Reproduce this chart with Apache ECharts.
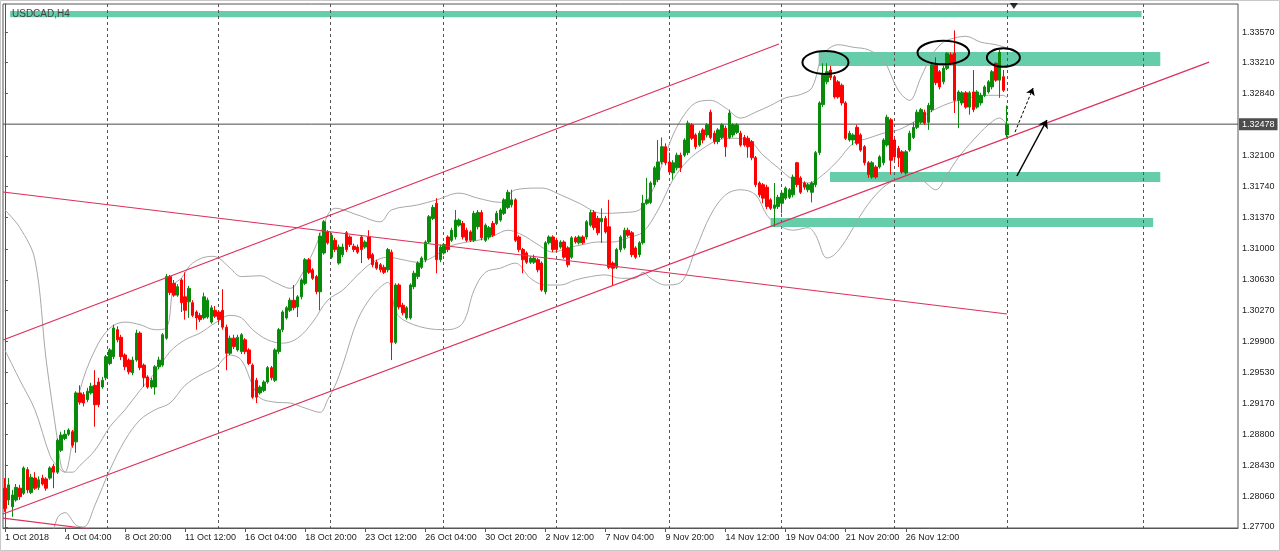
<!DOCTYPE html>
<html><head><meta charset="utf-8">
<script src="https://cdn.jsdelivr.net/npm/echarts@6/dist/echarts.min.js"></script>
<style>html,body{margin:0;padding:0;background:#fff}#c{width:1280px;height:551px}</style>
</head><body><div id="c"></div>
<script>
// ---- data ----
const xLabels = ['1 Oct 2018','4 Oct 04:00','8 Oct 20:00','11 Oct 12:00','16 Oct 04:00','18 Oct 20:00','23 Oct 12:00','26 Oct 04:00','30 Oct 20:00','2 Nov 12:00','7 Nov 04:00','9 Nov 20:00','14 Nov 12:00','19 Nov 04:00','21 Nov 20:00','26 Nov 12:00','29 Nov 04:00'];
const yTicks = [1.27700,1.28060,1.28430,1.28800,1.29170,1.29530,1.29900,1.30270,1.30630,1.31000,1.31370,1.31740,1.32100,1.32840,1.33210,1.33570];
const lastPrice = 1.32478;
// [open, close, low, high]
const candles = [
[1.2816,1.2792,1.2788,1.2828],[1.2802,1.2820,1.2796,1.2828],[1.2794,1.2808,1.2782,1.2814],[1.2802,1.2817,1.2800,1.2821],[1.2816,1.2806,1.2802,1.2820],
[1.2810,1.2840,1.2808,1.2842],[1.2838,1.2814,1.2810,1.2841],[1.2811,1.2829,1.2809,1.2833],[1.2828,1.2816,1.2814,1.2835],[1.2817,1.2826,1.2814,1.2830],
[1.2828,1.2821,1.2819,1.2832],[1.2827,1.2816,1.2813,1.2829],[1.2828,1.2840,1.2826,1.2842],[1.2842,1.2835,1.2816,1.2845],[1.2835,1.2873,1.2833,1.2875],
[1.2861,1.2879,1.2859,1.2883],[1.2875,1.2880,1.2873,1.2885],[1.2880,1.2885,1.2878,1.2887],[1.2883,1.2867,1.2864,1.2885],[1.2871,1.2929,1.2858,1.2931],
[1.2929,1.2918,1.2915,1.2938],[1.2927,1.2917,1.2913,1.2930],[1.2921,1.2931,1.2918,1.2935],[1.2929,1.2937,1.2927,1.2941],[1.2938,1.2915,1.2889,1.2956],
[1.2942,1.2915,1.2912,1.2947],[1.2936,1.2944,1.2934,1.2948],[1.2947,1.2972,1.2944,1.2974],[1.2964,1.2980,1.2962,1.2982],[1.2972,1.3006,1.2969,1.3010],
[1.3004,1.2992,1.2989,1.3008],[1.2995,1.2972,1.2968,1.2998],[1.2974,1.2960,1.2956,1.2976],[1.2968,1.2954,1.2951,1.2970],[1.2953,1.2968,1.2950,1.2972],
[1.2968,1.3000,1.2966,1.3004],[1.3000,1.2959,1.2956,1.3002],[1.2962,1.2947,1.2936,1.2964],[1.2948,1.2936,1.2934,1.2950],[1.2936,1.2944,1.2934,1.2947],
[1.2936,1.2960,1.2927,1.2962],[1.2960,1.2968,1.2957,1.2972],[1.2962,1.2998,1.2960,1.3000],[1.2994,1.3067,1.2992,1.3070],[1.3067,1.3048,1.3045,1.3069],
[1.3059,1.3045,1.3043,1.3063],[1.3045,1.3055,1.3043,1.3058],[1.3063,1.3036,1.3025,1.3065],[1.3043,1.3027,1.3016,1.3072],[1.3037,1.3053,1.3018,1.3056],
[1.3036,1.3021,1.3019,1.3039],[1.3025,1.3018,1.3004,1.3027],[1.3021,1.3016,1.3013,1.3024],[1.3018,1.3043,1.3016,1.3048],[1.3019,1.3039,1.3017,1.3042],
[1.3013,1.3030,1.3011,1.3033],[1.3027,1.3020,1.3018,1.3032],[1.3025,1.3016,1.3013,1.3027],[1.3027,1.3007,1.3004,1.3052],[1.3007,1.2976,1.2956,1.3010],
[1.2976,1.2994,1.2974,1.2997],[1.2994,1.2984,1.2981,1.2998],[1.2980,1.2995,1.2978,1.2998],[1.2978,1.2998,1.2975,1.3000],[1.2992,1.2978,1.2975,1.2994],
[1.2980,1.2964,1.2962,1.2982],[1.2962,1.2924,1.2922,1.2964],[1.2944,1.2924,1.2917,1.2947],[1.2929,1.2936,1.2927,1.2938],[1.2932,1.2942,1.2930,1.2944],
[1.2942,1.2959,1.2940,1.2961],[1.2959,1.2947,1.2944,1.2961],[1.2944,1.2980,1.2942,1.2982],[1.2978,1.3004,1.2975,1.3006],[1.3004,1.3025,1.3001,1.3027],
[1.3018,1.3030,1.3016,1.3032],[1.3027,1.3039,1.3025,1.3042],[1.3039,1.3030,1.3027,1.3057],[1.3031,1.3043,1.3019,1.3045],[1.3043,1.3063,1.3040,1.3065],
[1.3059,1.3087,1.3057,1.3089],[1.3087,1.3072,1.3070,1.3089],[1.3075,1.3065,1.3063,1.3077],[1.3067,1.3049,1.3046,1.3069],[1.3049,1.3115,1.3027,1.3119],
[1.3095,1.3132,1.3093,1.3134],[1.3120,1.3107,1.3105,1.3122],[1.3090,1.3116,1.3088,1.3119],[1.3110,1.3099,1.3096,1.3113],[1.3083,1.3102,1.3081,1.3105],
[1.3093,1.3102,1.3090,1.3106],[1.3119,1.3099,1.3096,1.3121],[1.3114,1.3105,1.3102,1.3116],[1.3103,1.3099,1.3096,1.3106],[1.3102,1.3096,1.3094,1.3105],
[1.3114,1.3099,1.3083,1.3116],[1.3102,1.3108,1.3100,1.3110],[1.3114,1.3089,1.3087,1.3122],[1.3093,1.3081,1.3078,1.3095],[1.3084,1.3077,1.3075,1.3087],
[1.3081,1.3075,1.3072,1.3083],[1.3078,1.3072,1.3070,1.3081],[1.3075,1.3099,1.3072,1.3101],[1.3096,1.2989,1.2968,1.3099],[1.2989,1.3057,1.2987,1.3059],
[1.3057,1.3031,1.3028,1.3059],[1.3033,1.3024,1.3021,1.3036],[1.3018,1.3030,1.3016,1.3032],[1.3018,1.3057,1.3016,1.3059],[1.3055,1.3071,1.3052,1.3074],
[1.3067,1.3083,1.3064,1.3085],[1.3078,1.3089,1.3076,1.3091],[1.3087,1.3108,1.3084,1.3110],[1.3108,1.3138,1.3106,1.3140],[1.3136,1.3149,1.3134,1.3152],
[1.3154,1.3087,1.3071,1.3160],[1.3087,1.3102,1.3084,1.3105],[1.3095,1.3105,1.3093,1.3107],[1.3114,1.3099,1.3096,1.3116],[1.3110,1.3122,1.3108,1.3125],
[1.3114,1.3134,1.3111,1.3146],[1.3128,1.3134,1.3126,1.3136],[1.3130,1.3114,1.3111,1.3133],[1.3122,1.3110,1.3108,1.3125],[1.3120,1.3110,1.3108,1.3122],
[1.3110,1.3142,1.3108,1.3145],[1.3126,1.3143,1.3123,1.3146],[1.3143,1.3113,1.3110,1.3146],[1.3110,1.3128,1.3108,1.3130],[1.3114,1.3125,1.3111,1.3127],
[1.3130,1.3116,1.3114,1.3133],[1.3130,1.3142,1.3128,1.3145],[1.3134,1.3146,1.3132,1.3148],[1.3142,1.3158,1.3140,1.3160],[1.3149,1.3167,1.3147,1.3170],
[1.3152,1.3158,1.3149,1.3170],[1.3158,1.3110,1.3108,1.3160],[1.3114,1.3099,1.3096,1.3116],[1.3099,1.3087,1.3071,1.3101],[1.3095,1.3084,1.3082,1.3097],
[1.3084,1.3089,1.3082,1.3091],[1.3084,1.3089,1.3082,1.3093],[1.3087,1.3075,1.3072,1.3089],[1.3083,1.3051,1.3049,1.3085],[1.3049,1.3107,1.3046,1.3109],
[1.3107,1.3114,1.3105,1.3116],[1.3114,1.3099,1.3096,1.3116],[1.3110,1.3099,1.3096,1.3113],[1.3102,1.3108,1.3100,1.3110],[1.3108,1.3090,1.3088,1.3110],
[1.3101,1.3081,1.3078,1.3103],[1.3090,1.3113,1.3088,1.3115],[1.3113,1.3108,1.3106,1.3115],[1.3107,1.3114,1.3105,1.3116],[1.3114,1.3107,1.3105,1.3116],
[1.3114,1.3132,1.3111,1.3134],[1.3128,1.3143,1.3126,1.3146],[1.3143,1.3125,1.3122,1.3146],[1.3136,1.3119,1.3116,1.3139],[1.3132,1.3136,1.3107,1.3148],
[1.3136,1.3120,1.3118,1.3139],[1.3126,1.3078,1.3076,1.3158],[1.3083,1.3077,1.3057,1.3085],[1.3078,1.3099,1.3076,1.3101],[1.3099,1.3114,1.3096,1.3116],
[1.3101,1.3122,1.3099,1.3125],[1.3122,1.3116,1.3114,1.3125],[1.3119,1.3093,1.3090,1.3121],[1.3101,1.3090,1.3088,1.3103],[1.3093,1.3107,1.3090,1.3109],
[1.3107,1.3154,1.3105,1.3164],[1.3154,1.3158,1.3152,1.3184],[1.3155,1.3178,1.3153,1.3180],[1.3176,1.3196,1.3173,1.3198],[1.3182,1.3203,1.3179,1.3229],
[1.3203,1.3221,1.3200,1.3232],[1.3221,1.3202,1.3199,1.3225],[1.3203,1.3191,1.3189,1.3214],[1.3190,1.3202,1.3182,1.3205],[1.3196,1.3211,1.3193,1.3214],
[1.3211,1.3196,1.3191,1.3214],[1.3211,1.3229,1.3209,1.3231],[1.3214,1.3249,1.3211,1.3252],[1.3247,1.3231,1.3229,1.3249],[1.3235,1.3221,1.3218,1.3237],
[1.3223,1.3237,1.3221,1.3240],[1.3241,1.3229,1.3225,1.3243],[1.3235,1.3247,1.3232,1.3249],[1.3262,1.3232,1.3230,1.3265],[1.3237,1.3227,1.3224,1.3240],
[1.3227,1.3241,1.3224,1.3243],[1.3232,1.3247,1.3230,1.3249],[1.3243,1.3221,1.3209,1.3246],[1.3232,1.3261,1.3230,1.3265],[1.3235,1.3247,1.3232,1.3249],
[1.3238,1.3247,1.3236,1.3249],[1.3237,1.3223,1.3221,1.3240],[1.3232,1.3223,1.3221,1.3235],[1.3231,1.3221,1.3208,1.3234],[1.3227,1.3208,1.3205,1.3229],
[1.3208,1.3176,1.3173,1.3210],[1.3178,1.3164,1.3161,1.3180],[1.3176,1.3160,1.3154,1.3178],[1.3173,1.3150,1.3147,1.3176],[1.3158,1.3148,1.3146,1.3160],
[1.3148,1.3152,1.3126,1.3178],[1.3150,1.3161,1.3147,1.3164],[1.3154,1.3166,1.3142,1.3168],[1.3160,1.3172,1.3158,1.3174],[1.3161,1.3170,1.3159,1.3172],
[1.3164,1.3185,1.3161,1.3188],[1.3202,1.3176,1.3173,1.3203],[1.3184,1.3167,1.3165,1.3186],[1.3178,1.3173,1.3170,1.3180],[1.3170,1.3176,1.3167,1.3178],
[1.3167,1.3178,1.3155,1.3180],[1.3176,1.3214,1.3173,1.3216],[1.3214,1.3273,1.3211,1.3275],[1.3271,1.3306,1.3268,1.3320],[1.3298,1.3310,1.3295,1.3320],
[1.3312,1.3303,1.3300,1.3317],[1.3304,1.3280,1.3278,1.3306],[1.3298,1.3280,1.3278,1.3300],[1.3294,1.3273,1.3270,1.3296],[1.3273,1.3231,1.3229,1.3275],
[1.3229,1.3237,1.3227,1.3240],[1.3229,1.3235,1.3223,1.3237],[1.3244,1.3225,1.3223,1.3247],[1.3235,1.3217,1.3215,1.3237],[1.3221,1.3202,1.3199,1.3223],
[1.3202,1.3188,1.3184,1.3204],[1.3185,1.3202,1.3183,1.3204],[1.3197,1.3185,1.3183,1.3199],[1.3197,1.3209,1.3195,1.3211],[1.3202,1.3229,1.3199,1.3231],
[1.3223,1.3256,1.3221,1.3259],[1.3253,1.3205,1.3188,1.3255],[1.3229,1.3209,1.3205,1.3231],[1.3219,1.3208,1.3197,1.3222],[1.3215,1.3191,1.3189,1.3217],
[1.3190,1.3215,1.3188,1.3217],[1.3217,1.3237,1.3215,1.3240],[1.3232,1.3244,1.3230,1.3250],[1.3244,1.3262,1.3242,1.3265],[1.3250,1.3265,1.3248,1.3267],
[1.3262,1.3249,1.3247,1.3265],[1.3250,1.3270,1.3241,1.3273],[1.3265,1.3318,1.3262,1.3320],[1.3318,1.3297,1.3294,1.3327],[1.3310,1.3292,1.3289,1.3312],
[1.3298,1.3314,1.3295,1.3317],[1.3314,1.3332,1.3312,1.3333],[1.3330,1.3320,1.3318,1.3333],[1.3332,1.3276,1.3261,1.3359],[1.3276,1.3286,1.3243,1.3288],
[1.3273,1.3285,1.3270,1.3287],[1.3285,1.3268,1.3266,1.3287],[1.3268,1.3285,1.3259,1.3287],[1.3286,1.3265,1.3262,1.3312],[1.3268,1.3286,1.3266,1.3288],
[1.3273,1.3282,1.3270,1.3285],[1.3282,1.3292,1.3280,1.3294],[1.3286,1.3298,1.3284,1.3300],[1.3292,1.3310,1.3289,1.3312],[1.3320,1.3300,1.3298,1.3321],
[1.3300,1.3333,1.3279,1.3336],[1.3304,1.3288,1.3286,1.3312],[1.3235,1.32478,1.3232,1.3270]
];
// Bollinger bands: [bar index, price]
const upperBand = [[0,1.3146],[4,1.3125],[8,1.3087],[11,1.2968],[14,1.2873],[15,1.2842],[16,1.2835],[18,1.2873],[20,1.2932],[24,1.2980],[28,1.3006],[32,1.3013],[36,1.3010],[40,1.3004],[43,1.3006],[45,1.3057],[47,1.3065],[50,1.3083],[55,1.3091],[57,1.3089],[60,1.3077],[63,1.3067],[68,1.3068],[72,1.3060],[76,1.3053],[79,1.3069],[83,1.3105],[86,1.3140],[88,1.3148],[94,1.3140],[100,1.3132],[103,1.3146],[110,1.3152],[115,1.3158],[121,1.3166],[126,1.3160],[132,1.3155],[136,1.3170],[143,1.3172],[148,1.3164],[153,1.3154],[159,1.3142],[165,1.3143],[169,1.3146],[172,1.3164],[175,1.3199],[178,1.3235],[181,1.3259],[184,1.3273],[188,1.3276],[192,1.3267],[196,1.3255],[200,1.3262],[204,1.3270],[208,1.3279],[212,1.3283],[215,1.3291],[218,1.3330],[222,1.3342],[226,1.3339],[230,1.3336],[234,1.3324],[238,1.3288],[241,1.3276],[244,1.3303],[247,1.3330],[250,1.3345],[253,1.3350],[256,1.3352],[260,1.3345],[264,1.3342],[267,1.3338]];
const middleBand = [[0,1.2980],[4,1.2944],[8,1.2909],[12,1.2855],[14,1.2842],[16,1.2835],[18,1.2835],[20,1.2843],[24,1.2861],[28,1.2889],[32,1.2909],[36,1.2932],[40,1.2953],[44,1.2978],[48,1.2992],[52,1.3000],[56,1.3012],[60,1.3021],[63,1.3018],[66,1.3004],[70,1.2992],[74,1.2988],[78,1.2994],[82,1.3013],[86,1.3039],[90,1.3051],[94,1.3069],[98,1.3084],[102,1.3090],[106,1.3087],[110,1.3084],[114,1.3090],[118,1.3102],[122,1.3107],[126,1.3110],[130,1.3115],[134,1.3122],[138,1.3116],[142,1.3105],[146,1.3096],[150,1.3101],[154,1.3105],[158,1.3108],[162,1.3108],[166,1.3113],[170,1.3120],[174,1.3146],[178,1.3182],[182,1.3205],[186,1.3219],[190,1.3229],[194,1.3231],[198,1.3229],[202,1.3211],[206,1.3196],[210,1.3182],[214,1.3178],[218,1.3188],[222,1.3205],[226,1.3225],[230,1.3231],[234,1.3237],[238,1.3241],[242,1.3250],[246,1.3261],[250,1.3270],[254,1.3276],[258,1.3280],[262,1.3282],[266,1.3282],[267,1.3279]];
const lowerBand = [[10,1.2731],[12,1.2749],[14,1.2781],[16,1.2787],[19,1.2772],[21,1.2770],[24,1.2796],[28,1.2838],[32,1.2873],[36,1.2897],[40,1.2909],[44,1.2917],[48,1.2938],[52,1.2950],[56,1.2959],[60,1.2974],[63,1.2968],[66,1.2938],[68,1.2923],[72,1.2918],[76,1.2917],[80,1.2911],[84,1.2906],[86,1.2921],[88,1.2938],[90,1.2962],[94,1.3016],[98,1.3045],[102,1.3060],[104,1.3027],[106,1.3016],[112,1.3006],[118,1.3004],[122,1.3012],[125,1.3051],[128,1.3072],[132,1.3077],[136,1.3083],[140,1.3065],[144,1.3057],[148,1.3057],[152,1.3063],[156,1.3067],[160,1.3069],[164,1.3065],[168,1.3065],[170,1.3072],[172,1.3065],[176,1.3057],[180,1.3060],[184,1.3099],[188,1.3140],[192,1.3164],[196,1.3170],[200,1.3164],[203,1.3140],[206,1.3128],[210,1.3122],[214,1.3125],[216,1.3116],[219,1.3089],[221,1.3093],[224,1.3110],[228,1.3140],[232,1.3164],[236,1.3179],[240,1.3184],[244,1.3182],[248,1.3170],[251,1.3188],[254,1.3208],[258,1.3229],[262,1.3247],[265,1.3255],[267,1.3247]];
// drawn objects in chart coordinates (bar index, price)
const trendLines = [
  [[-0.5,1.29918],[206.2,1.33429]],
  [[-0.5,1.27854],[320.8,1.33214]],
  [[-0.5,1.31673],[267.0,1.30226]],
  [[-0.5,1.27806],[22.7,1.27676]]
];
const zones = [ // [fromBar, toBar, topPrice, bottomPrice]
  [1.4,302.8,1.33820,1.33745],
  [216.8,307.8,1.33333,1.33167],
  [219.8,307.8,1.31910,1.31791],
  [204.0,305.9,1.31364,1.31258]
];
const ellipses = [ // [centerBar, centerPrice, radiusBars, radiusPrice]
  [218.6,1.33209,6.13,0.00136],
  [250.0,1.33327,6.88,0.00140],
  [266.0,1.33268,4.4,0.00109]
];
const arrowsSolid = [[[269.6,1.31863],[277.6,1.32527]]];
const arrowsDashed = [[[269.1,1.32384],[273.9,1.32906]]];
const weekLines = [27.2,56.8,86.7,116.8,146.7,176.8,206.7,236.8,267,303.2];
const shiftMarker = [[268.8,1.3388]];

// ---- chart ----
const N = 329;
const Y_MIN = 1.27688, Y_MAX = 1.33903;
const cats = candles.map((_, i) => String(i));
while (cats.length < N) cats.push(String(cats.length));
const labelAt = {};
xLabels.forEach((t, k) => { labelAt[k * 16] = t; });
const hasLabel = (i) => labelAt[i] !== undefined;
const FONT = 'Liberation Sans';
const RED_LINE = '#dc2f5c';

const chart = echarts.init(document.getElementById('c'));
const series = [];
series.push({
  type: 'custom', xAxisIndex: 1, z: 1, silent: true,
  data: zones, encode: { x: [0, 1], y: [2, 3] },
  renderItem: (params, api) => {
    const a = api.coord([api.value(0), api.value(2)]);
    const b = api.coord([api.value(1), api.value(3)]);
    return { type: 'rect', shape: { x: a[0], y: a[1], width: b[0] - a[0], height: b[1] - a[1] }, style: { fill: '#66CDAA' } };
  }
});
series.push({
  type: 'custom', xAxisIndex: 1, z: 1, silent: true,
  data: weekLines.map(v => [v, Y_MIN]), encode: { x: 0, y: 1 },
  renderItem: (params, api) => {
    const a = api.coord([api.value(0), Y_MAX]);
    const b = api.coord([api.value(0), Y_MIN]);
    const x = Math.round(a[0]) + 0.5;
    return { type: 'line', shape: { x1: x, y1: a[1], x2: x, y2: b[1] }, style: { stroke: '#555', lineWidth: 1, lineDash: [3, 3] } };
  }
});
[upperBand, middleBand, lowerBand].forEach(b => series.push({
  type: 'line', xAxisIndex: 1, z: 2, data: b, smooth: 0.35, showSymbol: false, silent: true,
  lineStyle: { color: '#a8a8a8', width: 1 }
}));
series.push({
  type: 'candlestick', xAxisIndex: 0, z: 3, data: candles, barWidth: 3,
  itemStyle: { color: '#0a8a0a', color0: '#ff0000', borderColor: '#0a8a0a', borderColor0: '#ff0000', borderWidth: 1 }
});
// current price line with its label on the price scale
series.push({
  type: 'line', xAxisIndex: 1, z: 3, silent: true, showSymbol: false,
  data: [[-0.5, lastPrice], [N - 0.5, lastPrice]],
  lineStyle: { color: '#4a4a4a', width: 1 },
  endLabel: { show: true, distance: 1, formatter: () => lastPrice.toFixed(5), backgroundColor: '#4d4d4d', color: '#fff', padding: [2, 3, 1, 3], fontSize: 9, fontFamily: FONT }
});
trendLines.forEach(t => series.push({
  type: 'line', xAxisIndex: 1, z: 4, data: t, showSymbol: false, silent: true,
  lineStyle: { color: RED_LINE, width: 1.2 }
}));
series.push({
  type: 'custom', xAxisIndex: 1, z: 5, silent: true,
  data: ellipses, encode: { x: 0, y: 1 },
  renderItem: (params, api) => {
    const c = api.coord([api.value(0), api.value(1)]);
    const s = api.size([api.value(2), api.value(3)]);
    return { type: 'ellipse', shape: { cx: c[0], cy: c[1], rx: s[0], ry: s[1] }, style: { fill: 'none', stroke: '#000', lineWidth: 2 } };
  }
});
series.push({
  type: 'lines', coordinateSystem: 'cartesian2d', xAxisIndex: 1, z: 5, silent: true,
  symbol: ['none', 'arrow'], symbolSize: 8,
  lineStyle: { color: '#000', width: 1.5, type: 'solid', opacity: 1 },
  data: arrowsSolid.map(c => ({ coords: c }))
});
series.push({
  type: 'lines', coordinateSystem: 'cartesian2d', xAxisIndex: 1, z: 5, silent: true,
  symbol: ['none', 'arrow'], symbolSize: 7,
  lineStyle: { color: '#000', width: 1, type: [3, 2], opacity: 1 },
  data: arrowsDashed.map(c => ({ coords: c }))
});
series.push({
  type: 'scatter', xAxisIndex: 1, z: 5, silent: true, data: shiftMarker,
  symbol: 'triangle', symbolRotate: 180, symbolSize: [8, 6], itemStyle: { color: '#000' }
});

chart.setOption({
  animation: false,
  backgroundColor: '#fff',
  title: { text: 'USDCAD,H4', left: 7, top: 4, textStyle: { fontSize: 10, fontWeight: 'normal', color: '#444', fontFamily: FONT } },
  graphic: [{ type: 'rect', shape: { x: 0.5, y: 0.5, width: 1279, height: 550 }, style: { fill: 'none', stroke: '#c8c8c8' }, silent: true }],
  grid: { left: 3, right: 42, top: 4, bottom: 23, show: true, borderColor: '#555', borderWidth: 1, backgroundColor: '#fff' },
  xAxis: [
    { type: 'category', data: cats, boundaryGap: true,
      axisLine: { lineStyle: { color: '#555' } },
      axisTick: { show: true, alignWithLabel: true, interval: (i) => hasLabel(i), length: 4, lineStyle: { color: '#555' } },
      axisLabel: { interval: (i) => hasLabel(i), formatter: (v) => labelAt[+v] || '', align: 'left', margin: 5, fontSize: 9, color: '#222', fontFamily: FONT, showMaxLabel: false },
      splitLine: { show: false } },
    { type: 'value', min: -0.5, max: N - 0.5, show: false }
  ],
  yAxis: {
    type: 'value', position: 'right', min: Y_MIN, max: Y_MAX,
    axisLine: { show: true, lineStyle: { color: '#555' } },
    axisTick: { show: true, customValues: yTicks, length: 3, lineStyle: { color: '#555' } },
    axisLabel: { customValues: yTicks, formatter: (v) => v.toFixed(5), fontSize: 9, color: '#222', margin: 4, fontFamily: FONT },
    splitLine: { show: false }
  },
  series: series
});
</script>
</body></html>
